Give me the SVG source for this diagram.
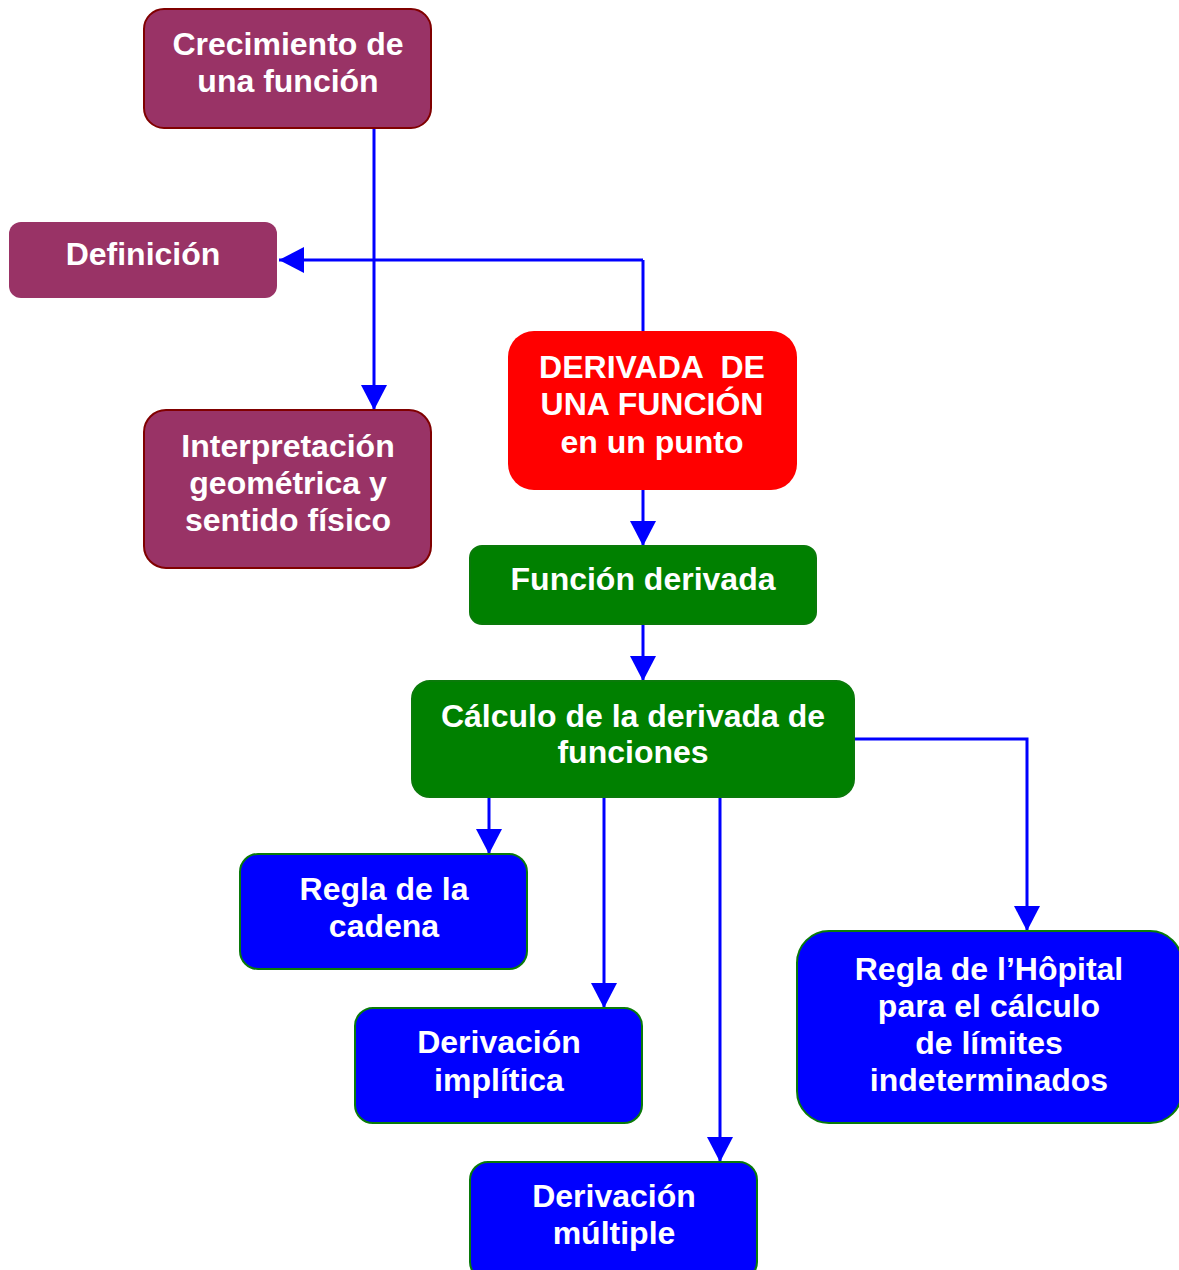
<svg xmlns="http://www.w3.org/2000/svg" width="1179" height="1270" viewBox="0 0 1179 1270">
<defs>
<marker id="ah" markerUnits="userSpaceOnUse" markerWidth="26" markerHeight="26" viewBox="0 0 26 26" refX="25" refY="13" orient="auto">
<path d="M0,0 L25,13 L0,26 Z" fill="#0000FF"/>
</marker>
<style>
.t{font-family:"Liberation Sans",Arial,sans-serif;font-weight:bold;font-size:32px;fill:#FFFFFF;text-anchor:middle}
.p{fill:#993366;stroke:#800000;stroke-width:2}
.r{fill:#FF0000}
.g{fill:#008000;stroke:#0A7A0A;stroke-width:2}
.b{fill:#0000FF;stroke:#0A7A0A;stroke-width:2}
.c{fill:none;stroke:#0000FF;stroke-width:3}
.ca{fill:none;stroke:#0000FF;stroke-width:3;marker-end:url(#ah)}
</style>
</defs>
<g id="connectors">
<path class="ca" d="M374,125 L374,410"/>
<path class="c" d="M643,335 L643,260"/>
<path class="ca" d="M643,260 L279,260"/>
<path class="ca" d="M643,490 L643,546"/>
<path class="ca" d="M643,624 L643,681"/>
<path class="ca" d="M489,797 L489,854"/>
<path class="ca" d="M604,797 L604,1008"/>
<path class="ca" d="M720,797 L720,1162"/>
<path class="ca" d="M854,739 L1027,739 L1027,931"/>
</g>
<g id="crecimiento">
<rect class="p" x="144" y="9" width="287" height="119" rx="20"/>
<text class="t" x="288" y="55">Crecimiento de</text>
<text class="t" x="288" y="92">una función</text>
</g>
<g id="definicion">
<rect x="9" y="222" width="268" height="76" rx="12" fill="#993366"/>
<text class="t" x="143" y="265">Definición</text>
</g>
<g id="interpretacion">
<rect class="p" x="144" y="410" width="287" height="158" rx="22"/>
<text class="t" x="288" y="457">Interpretación</text>
<text class="t" x="288" y="494">geométrica y</text>
<text class="t" x="288" y="531">sentido físico</text>
</g>
<g id="derivada">
<rect class="r" x="508" y="331" width="289" height="159" rx="26"/>
<text class="t" x="652" y="378" xml:space="preserve">DERIVADA  DE</text>
<text class="t" x="652" y="415">UNA FUNCIÓN</text>
<text class="t" x="652" y="453">en un punto</text>
</g>
<g id="funcion-derivada">
<rect class="g" x="470" y="546" width="346" height="78" rx="12"/>
<text class="t" x="643" y="590">Función derivada</text>
</g>
<g id="calculo">
<rect class="g" x="412" y="681" width="442" height="116" rx="18"/>
<text class="t" x="633" y="727">Cálculo de la derivada de</text>
<text class="t" x="633" y="763">funciones</text>
</g>
<g id="cadena">
<rect class="b" x="240" y="854" width="287" height="115" rx="18"/>
<text class="t" x="384" y="900">Regla de la</text>
<text class="t" x="384" y="937">cadena</text>
</g>
<g id="implicita">
<rect class="b" x="355" y="1008" width="287" height="115" rx="18"/>
<text class="t" x="499" y="1053">Derivación</text>
<text class="t" x="499" y="1091">implítica</text>
</g>
<g id="multiple">
<rect class="b" x="470" y="1162" width="287" height="118" rx="18"/>
<text class="t" x="614" y="1207">Derivación</text>
<text class="t" x="614" y="1244">múltiple</text>
</g>
<g id="hopital">
<rect class="b" x="797" y="931" width="385" height="192" rx="32"/>
<text class="t" x="989" y="980">Regla de l’Hôpital</text>
<text class="t" x="989" y="1017">para el cálculo</text>
<text class="t" x="989" y="1054">de límites</text>
<text class="t" x="989" y="1091">indeterminados</text>
</g>
</svg>
